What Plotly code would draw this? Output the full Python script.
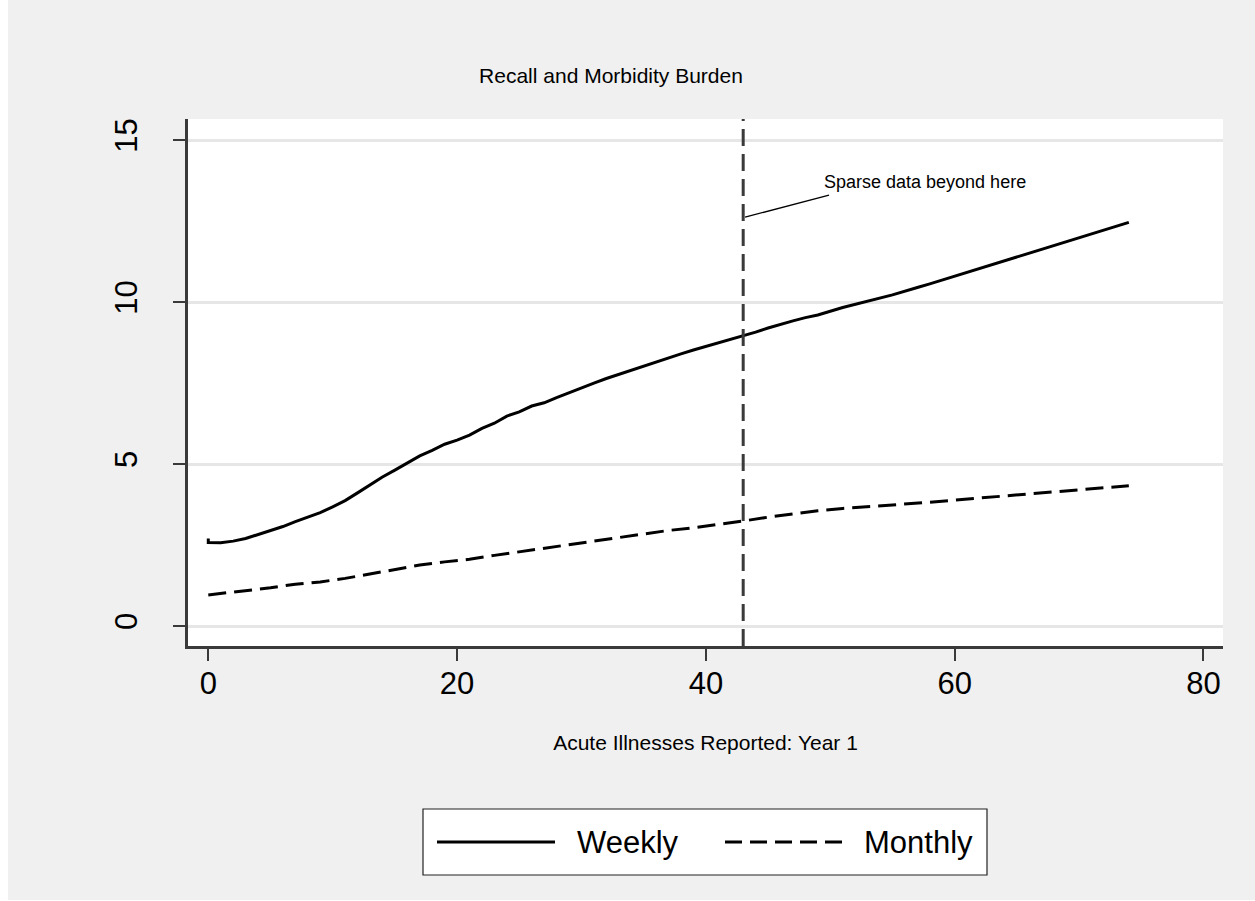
import plotly.graph_objects as go

# ---------------- data ----------------
weekly_x = [0, 0, 1, 2, 3, 4, 5, 6, 7, 8, 9, 10, 11, 12, 13, 14, 15, 16, 17, 18, 19,
            20, 21, 22, 23, 24, 25, 26, 27, 28, 29, 30, 31, 32, 33, 34, 35, 36, 37,
            38, 39, 40, 41, 42, 43, 44, 45, 46, 47, 48, 49, 51, 52, 55, 57, 58, 74]
weekly_y = [2.70, 2.58, 2.57, 2.62, 2.70, 2.82, 2.94, 3.07, 3.22, 3.36, 3.50, 3.68,
            3.87, 4.11, 4.36, 4.60, 4.81, 5.04, 5.25, 5.42, 5.61, 5.74, 5.89, 6.10,
            6.26, 6.48, 6.61, 6.79, 6.89, 7.05, 7.20, 7.37, 7.50, 7.64, 7.77, 7.90,
            8.02, 8.16, 8.28, 8.40, 8.52, 8.63, 8.73, 8.83, 8.95, 9.07, 9.20, 9.32,
            9.42, 9.52, 9.60, 9.83, 9.93, 10.22, 10.45, 10.56, 12.46]

monthly_x = [0, 1, 3, 5, 7, 9, 11, 13, 15, 17, 19, 21, 23, 25, 27, 29, 31, 33, 35,
             37, 39, 41, 43, 45, 47, 49, 51, 54, 58, 62, 66, 70, 74]
monthly_y = [0.96, 1.00, 1.09, 1.18, 1.29, 1.36, 1.47, 1.60, 1.75, 1.88, 1.98, 2.06,
             2.18, 2.29, 2.40, 2.52, 2.62, 2.73, 2.85, 2.95, 3.03, 3.13, 3.24, 3.36,
             3.47, 3.56, 3.63, 3.71, 3.82, 3.95, 4.08, 4.20, 4.33]

series_names = ["Weekly", "Monthly"]
x_ticks = [0, 20, 40, 60, 80]
y_ticks = [0, 5, 10, 15]
x_range = [-1.63, 81.57]
y_range = [-0.617, 15.65]

cutoff_x = 43
note_text = "Sparse data beyond here"
note_pos = (49.33, 13.7)
note_pointer = (43.15, 12.62, 49.9, 13.3)

title_text = "Recall and Morbidity Burden"
xtitle_text = "Acute Illnesses Reported: Year 1"

# ---------------- layout geometry (page pixels) ----------------
OFFX = 8                      # page left margin kept by the browser
W, H = 1255 - OFFX, 900
PL, PR, PT, PB = 188, 1223, 119, 646   # plot box in page pixels
L, R, T, B = PL - OFFX, PR - OFFX, PT, PB
FONT = "Liberation Sans, Arial, sans-serif"


def px_x(p):
    return (p - PL) / (PR - PL)


def px_y(p):
    return (PB - p) / (PB - PT)


fig = go.Figure()

fig.add_trace(go.Scatter(x=weekly_x, y=weekly_y, mode="lines", name=series_names[0],
                         line=dict(color="black", width=3), showlegend=False))
fig.add_trace(go.Scatter(x=monthly_x, y=monthly_y, mode="lines", name=series_names[1],
                         line=dict(color="black", width=3, dash="18px,8px"),
                         showlegend=False))

# vertical cutoff line
fig.add_trace(go.Scatter(x=[cutoff_x, cutoff_x], y=y_range, mode="lines",
                         line=dict(color="#3a3a3a", width=3, dash="17px,8px"),
                         showlegend=False, hoverinfo="skip"))

shapes = []
# pointer line
shapes.append(dict(type="line", xref="x", yref="y",
                   x0=note_pointer[0], y0=note_pointer[1],
                   x1=note_pointer[2], y1=note_pointer[3],
                   line=dict(color="black", width=1.3)))
# manual legend
shapes.append(dict(type="rect", xref="paper", yref="paper",
                   x0=px_x(423), x1=px_x(987), y0=px_y(875), y1=px_y(809),
                   fillcolor="white", line=dict(color="#222222", width=1.2)))
shapes.append(dict(type="line", xref="paper", yref="paper",
                   x0=px_x(437), x1=px_x(555), y0=px_y(842), y1=px_y(842),
                   line=dict(color="black", width=3)))
shapes.append(dict(type="line", xref="paper", yref="paper",
                   x0=px_x(725), x1=px_x(845), y0=px_y(842), y1=px_y(842),
                   line=dict(color="black", width=3, dash="17px,8px")))

annotations = []
annotations.append(dict(x=note_pos[0], y=note_pos[1], xref="x", yref="y",
                        text=note_text, showarrow=False, xanchor="left",
                        yanchor="middle", font=dict(family=FONT, size=18, color="black")))
annotations.append(dict(x=px_x(575), y=px_y(842), xref="paper", yref="paper",
                        text=series_names[0], showarrow=False, xanchor="left",
                        yanchor="middle", font=dict(family=FONT, size=31, color="black")))
annotations.append(dict(x=px_x(862), y=px_y(842), xref="paper", yref="paper",
                        text=series_names[1], showarrow=False, xanchor="left",
                        yanchor="middle", font=dict(family=FONT, size=31, color="black")))

axis_common = dict(showline=True, linecolor="#3a3a3a", linewidth=2.5,
                   ticks="outside", ticklen=12, tickwidth=2, tickcolor="#3a3a3a",
                   tickfont=dict(family=FONT, size=31, color="black"),
                   zeroline=False, mirror=False)

fig.update_layout(
    width=W, height=H, autosize=False,
    margin=dict(l=L, r=W - R, t=T, b=H - B, pad=0),
    paper_bgcolor="#F0F0F0", plot_bgcolor="white",
    title=dict(text=title_text, x=(611 - OFFX) / W, xref="container", xanchor="center",
               y=1 - 76 / H, yref="container", yanchor="middle",
               font=dict(family=FONT, size=21, color="black")),
    xaxis=dict(range=x_range, tickvals=x_ticks, showgrid=False,
               title=dict(text=xtitle_text, standoff=36,
                          font=dict(family=FONT, size=21, color="black")),
               ticklabelstandoff=-4, **axis_common),
    yaxis=dict(range=y_range, tickvals=y_ticks, showgrid=True,
               gridcolor="#E6E6E6", gridwidth=2.5, tickangle=-90,
               ticklabelstandoff=24, **axis_common),
    shapes=shapes, annotations=annotations, showlegend=False,
)

fig.write_html("out.html",
               post_script="document.body.style.margin='0 0 0 %dpx';" % OFFX)
